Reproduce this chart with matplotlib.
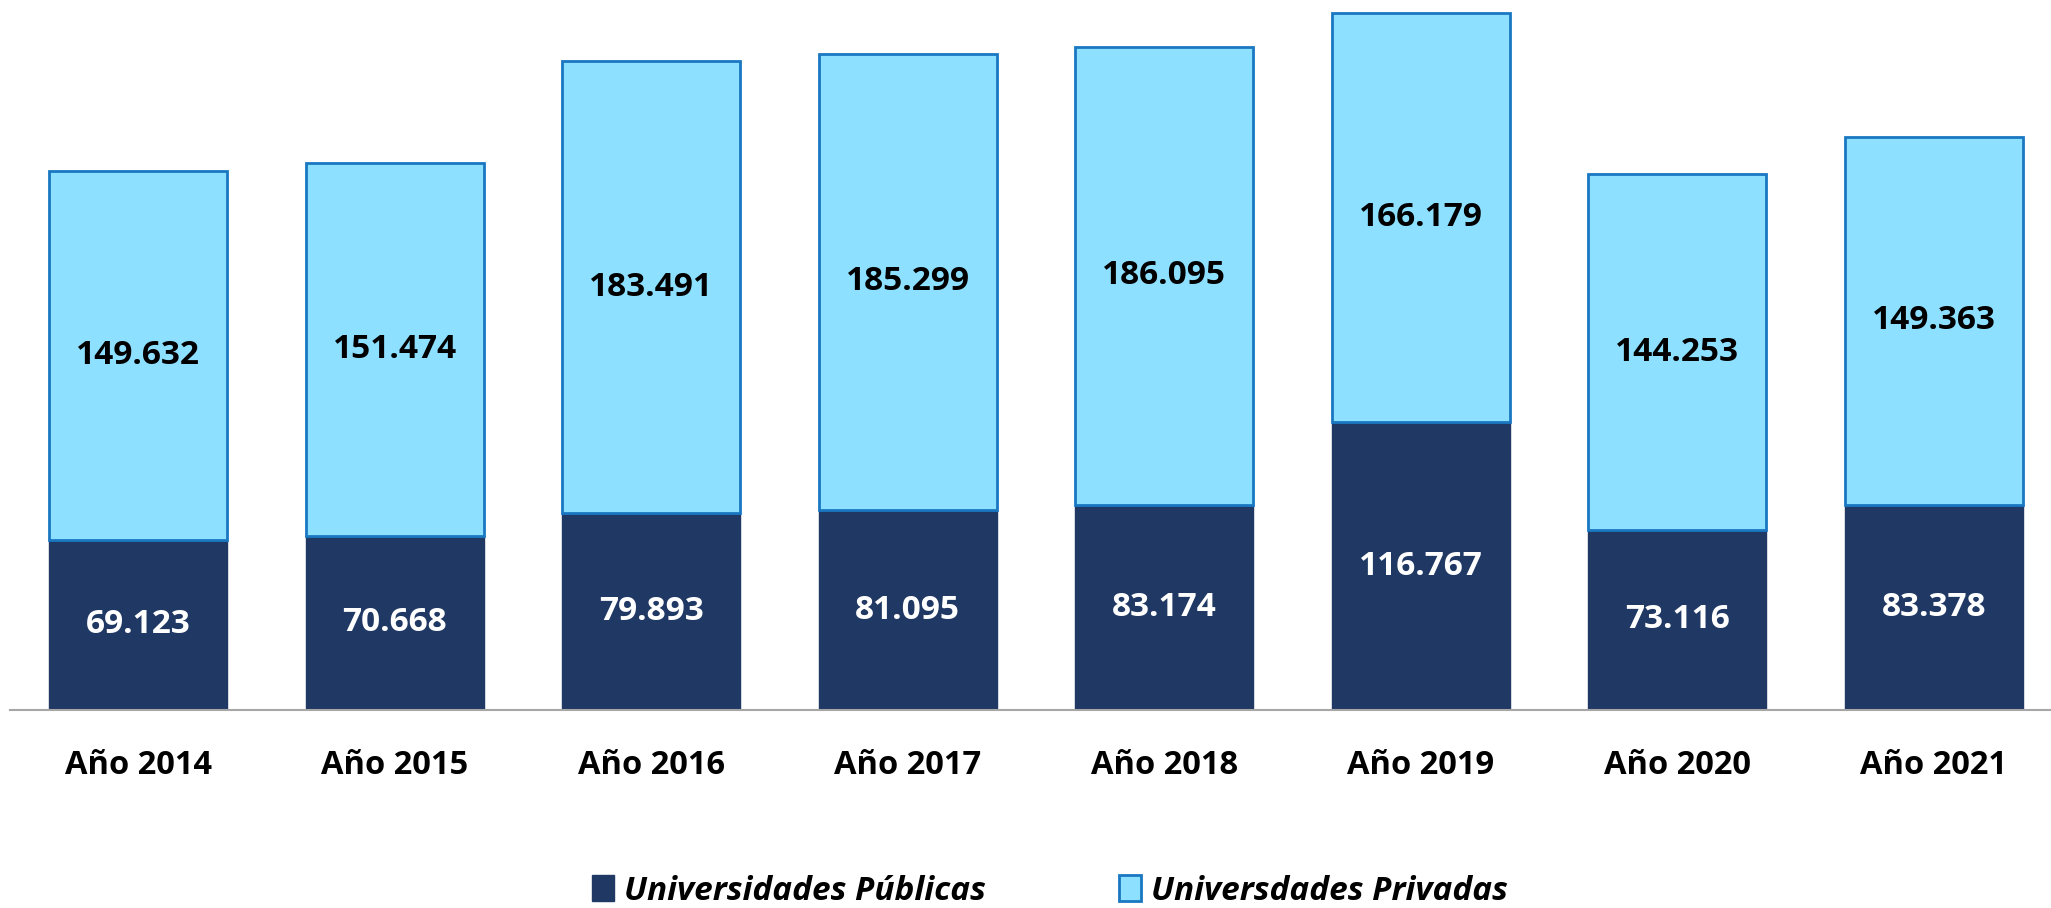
import numpy as np
import matplotlib.pyplot as plt

years = ['Año 2014', 'Año 2015', 'Año 2016', 'Año 2017',
         'Año 2018', 'Año 2019', 'Año 2020', 'Año 2021']
publicas = [69123, 70668, 79893, 81095, 83174, 116767, 73116, 83378]
privadas = [149632, 151474, 183491, 185299, 186095, 166179, 144253, 149363]

c_pub = '#203864'
c_priv = '#8de0ff'
c_edge = '#1a78c2'

plt.rcParams['font.family'] = ['Open Sans', 'DejaVu Sans']

fig = plt.figure(figsize=(20.51, 9.08), dpi=100)
ax = fig.add_axes([10/2051, 198/908, 2052/2051, 1 - 198/908])

x = np.arange(len(years))
w = 0.695
pub = np.array(publicas)
priv = np.array(privadas)

b1 = ax.bar(x, pub, w, color=c_pub, edgecolor=c_pub, linewidth=1,
            label='Universidades Públicas')
b2 = ax.bar(x, priv, w, bottom=pub, color=c_priv, edgecolor=c_edge,
            linewidth=2, label='Universdades Privadas')

def fmt(v):
  return f'{v:,}'.replace(',', '.')

for i in range(len(years)):
  ax.text(x[i], pub[i] / 2, fmt(publicas[i]), ha='center', va='center',
          color='white', fontsize=24, fontweight='bold')
  ax.text(x[i], pub[i] + priv[i] / 2, fmt(privadas[i]), ha='center',
          va='center', color='black', fontsize=24, fontweight='bold')

ax.set_xlim(-0.5, 7.5)
ax.set_ylim(0, 288200)
ax.set_xticks(x)
ax.set_xticklabels(years, fontsize=23.5, fontweight='bold')
ax.tick_params(axis='x', length=0, pad=28)
ax.set_yticks([])
for s in ['top', 'right', 'left']:
  ax.spines[s].set_visible(False)
ax.spines['bottom'].set_color('#a6a6a6')
ax.spines['bottom'].set_linewidth(1.5)

leg = fig.legend(handles=[b1, b2], loc='center', bbox_to_anchor=(0.512, 17/908),
                 ncol=2, frameon=False,
                 prop={'size': 24, 'weight': 'bold', 'style': 'italic'},
                 handlelength=0.65, handleheight=0.85, handletextpad=0.3,
                 columnspacing=4.0)

fig.savefig('out.png', dpi=100)
